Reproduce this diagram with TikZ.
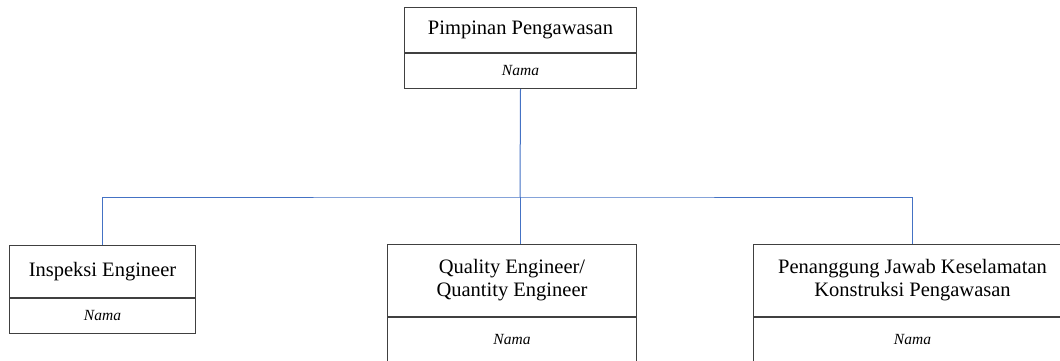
\documentclass[tikz,border=0pt]{standalone}
\usepackage{fontspec}
\setmainfont{Liberation Serif}
\usetikzlibrary{positioning}
\definecolor{garisbiru}{RGB}{68,114,196}
\tikzset{
  jabatan/.style={draw=black!75, line width=1pt, align=center, inner sep=0pt, font=\fontsize{20.5}{23}\selectfont},
  nama/.style={draw=black!75, line width=1pt, inner sep=0pt, font=\fontsize{15.5}{18}\selectfont\itshape},
  garis/.style={garisbiru, line width=1pt}
}

\begin{document}
\begin{tikzpicture}[x=1pt,y=-1pt]
    \useasboundingbox (0,0) rectangle (1060,361);
    \node[jabatan, minimum width=232pt, minimum height=45pt, anchor=north west] (pimpinan) at (404,7) {Pimpinan Pengawasan};
    \node[nama, minimum width=232pt, minimum height=35pt, below=0pt of pimpinan] (namaPimpinan) {Nama};
    \node[jabatan, minimum width=186pt, minimum height=52pt, anchor=north west] (inspeksi) at (9,245) {Inspeksi Engineer};
    \node[nama, minimum width=186pt, minimum height=35pt, below=0pt of inspeksi] (namaInspeksi) {Nama};
    \node[jabatan, minimum width=249pt, minimum height=72pt, anchor=north west] (quality) at (387,244) {Quality Engineer/\\Quantity Engineer};
    \node[nama, minimum width=249pt, minimum height=44pt, below=0pt of quality] (namaQuality) {Nama};
    \node[jabatan, minimum width=318pt, minimum height=72pt, anchor=north west] (penanggung) at (753,244) {Penanggung Jawab Keselamatan\\Konstruksi Pengawasan};
    \node[nama, minimum width=318pt, minimum height=44pt, below=0pt of penanggung] (namaPenanggung) {Nama};
    \coordinate (cabang) at (520,197);
    \draw[garis] (namaPimpinan.south) -- (cabang);
    \draw[garis] (inspeksi.north) |- (cabang) -| (penanggung.north);
    \draw[garis] (cabang) -- (cabang |- quality.north);
\end{tikzpicture}
\end{document}
